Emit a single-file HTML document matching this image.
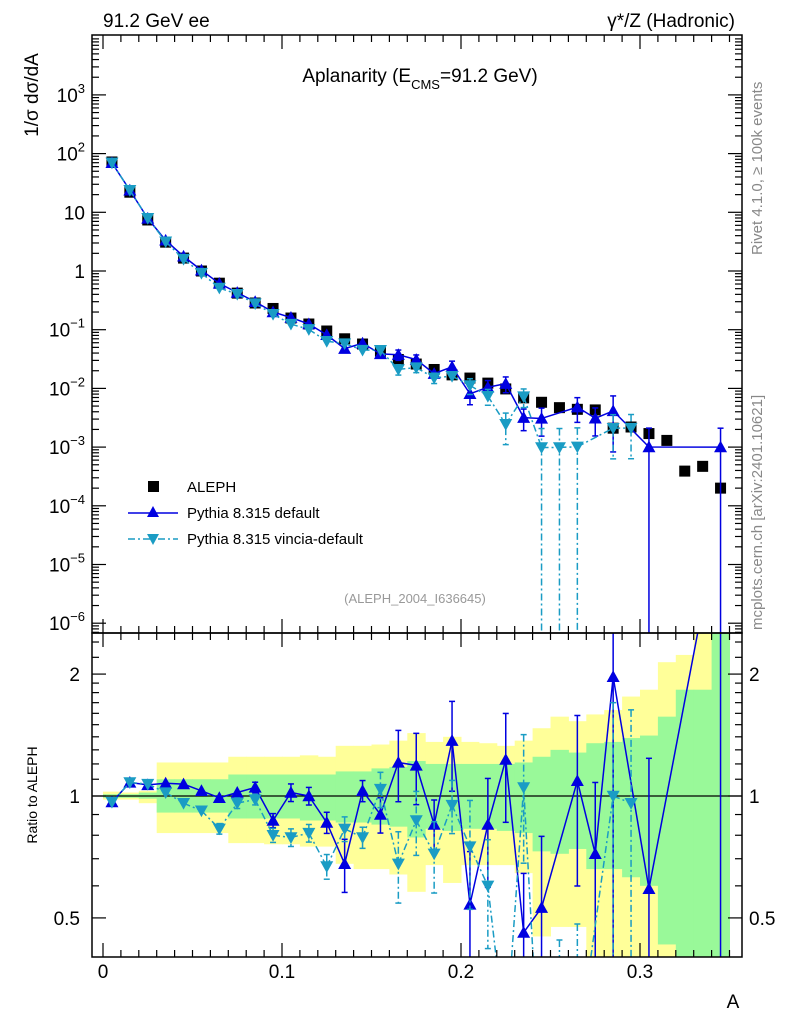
<!DOCTYPE html>
<html><head><meta charset="utf-8"><style>
html,body{margin:0;background:#fff;overflow:hidden;width:786px;height:1024px}
svg{display:block;font-family:"Liberation Sans",sans-serif}
</style></head><body>
<svg id="c" width="786" height="1024" viewBox="0 0 786 1024" xmlns="http://www.w3.org/2000/svg">
<defs>
<clipPath id="clipR"><rect x="92" y="633" width="650" height="324"/></clipPath>
<clipPath id="clipM"><rect x="92" y="35" width="650" height="598"/></clipPath>
</defs>
<text x="103" y="27" font-size="19">91.2 GeV ee</text>
<text x="735" y="27" font-size="19" text-anchor="end">γ*/Z (Hadronic)</text>
<text x="420" y="82" font-size="19" text-anchor="middle">Aplanarity (E<tspan font-size="13" dy="7">CMS</tspan><tspan dy="-7">=91.2 GeV)</tspan></text>
<text x="0" y="0" font-size="15" fill="#888" transform="translate(762,255) rotate(-90)">Rivet 4.1.0, ≥ 100k events</text>
<text x="0" y="0" font-size="15" fill="#888" transform="translate(762,630) rotate(-90)">mcplots.cern.ch [arXiv:2401.10621]</text>
<text x="0" y="0" font-size="19" text-anchor="middle" transform="translate(38,95) rotate(-90)">1/σ  dσ/dA</text>
<text x="0" y="0" font-size="14" text-anchor="middle" transform="translate(37,795) rotate(-90)">Ratio to ALEPH</text>
<text x="733" y="1008" font-size="19" text-anchor="middle">A</text>
<text x="415" y="603" font-size="13" fill="#999" text-anchor="middle">(ALEPH_2004_I636645)</text>
<g id="bands" clip-path="url(#clipR)"></g>
<g id="ratio" clip-path="url(#clipR)"></g>
<g id="main" clip-path="url(#clipM)"></g>
<g id="axes"></g>
<g id="legend">
<rect x="148" y="481" width="11" height="11" fill="#000"/>
<text x="187" y="492" font-size="15">ALEPH</text>
<line x1="128" y1="513" x2="178" y2="513" stroke="#0000e0" stroke-width="1.5"/>
<path d="M153,506 L159,517 L147,517 Z" fill="#0000e0"/>
<text x="187" y="518" font-size="15">Pythia 8.315 default</text>
<line x1="128" y1="539" x2="178" y2="539" stroke="#1a9cc4" stroke-width="1.5" stroke-dasharray="7,3,2,3"/>
<path d="M147,534 L159,534 L153,545 Z" fill="#1a9cc4"/>
<text x="187" y="544" font-size="15">Pythia 8.315 vincia-default</text>
</g>
</svg>
<script>
const binCenters=[0.005,0.015,0.025,0.035,0.045,0.055,0.065,0.075,0.085,0.095,0.105,0.115,0.125,0.135,0.145,0.155,0.165,0.175,0.185,0.195,0.205,0.215,0.225,0.235,0.245,0.255,0.265,0.275,0.285,0.295,0.305,0.315,0.325,0.335,0.345];
const alephValues=[72,22,7.4,3.1,1.66,1.0,0.62,0.42,0.285,0.23,0.158,0.125,0.095,0.07,0.057,0.043,0.031,0.026,0.021,0.017,0.015,0.0123,0.0098,0.0069,0.0058,0.0047,0.0044,0.0043,0.0021,0.0022,0.0017,0.0013,0.00039,0.00047,0.0002];
const pythiaRatio=[0.966,1.08,1.065,1.075,1.07,1.03,0.99,1.02,1.05,0.87,1.02,1.0,0.86,0.68,1.03,0.90,1.21,1.19,0.85,1.37,0.54,0.85,1.23,0.46,0.53,null,1.09,0.72,1.97,null,0.59,null,null,null,5.0];
const pythiaErr=[0.01,0.01,0.01,0.01,0.01,0.015,0.02,0.02,0.03,0.04,0.05,0.05,0.06,0.15,0.06,0.1,0.2,0.2,0.15,0.25,0.35,0.3,0.3,0.4,0.5,0,0.45,0.5,0.8,0,1.1,0,0,0,1.1];
const vinciaRatio=[0.966,1.08,1.07,1.02,0.96,0.92,0.83,0.96,0.98,0.80,0.79,0.81,0.67,0.83,0.79,1.04,0.68,0.87,0.72,0.95,0.75,0.60,0.25,1.05,0.17,0.21,0.23,null,1.0,0.96,null,null,null,null,null];
const vinciaErr=[0.01,0.01,0.01,0.02,0.02,0.02,0.03,0.03,0.03,0.04,0.05,0.05,0.07,0.07,0.06,0.1,0.2,0.18,0.2,0.15,0.3,0.3,0.55,0.35,1.1,1.1,1.1,0,0.7,0.7,0,0,0,0,0];
const yellowHi=[1.025,1.02,1.03,1.21,1.21,1.21,1.21,1.25,1.25,1.25,1.25,1.26,1.25,1.33,1.33,1.34,1.37,1.43,1.36,1.4,1.36,1.35,1.33,1.37,1.47,1.57,1.53,1.59,1.63,1.76,1.83,2.14,2.23,2.6,2.6];
const yellowLo=[0.98,0.98,0.96,0.81,0.81,0.81,0.81,0.765,0.765,0.76,0.76,0.75,0.75,0.68,0.66,0.66,0.64,0.58,0.675,0.61,0.675,0.675,0.675,0.645,0.45,0.475,0.475,0.3,0.3,0.3,0.3,0.4,0.3,0.3,0.3];
const greenHi=[1.01,1.01,1.02,1.10,1.10,1.10,1.10,1.13,1.13,1.13,1.13,1.13,1.13,1.15,1.15,1.17,1.18,1.22,1.2,1.2,1.2,1.2,1.2,1.21,1.25,1.3,1.28,1.35,1.36,1.39,1.41,1.57,1.83,1.83,2.6];
const greenLo=[0.99,0.99,0.985,0.91,0.91,0.91,0.91,0.88,0.88,0.88,0.88,0.87,0.87,0.86,0.86,0.85,0.84,0.79,0.83,0.82,0.83,0.83,0.82,0.81,0.73,0.72,0.74,0.66,0.66,0.63,0.6,0.43,0.3,0.3,0.3];
const xTicks=[0,0.1,0.2,0.3];
const xTickLabels=["0","0.1","0.2","0.3"];
const ratioTicks=[0.5,1,2];
const ratioTickLabels=["0.5","1","2"];

const NS="http://www.w3.org/2000/svg";
const X=v=>103+1790*v;
const YM=v=>271-58.7*Math.log10(v);
const YR=v=>796-405*Math.log10(v);
const BW=0.01;
function mk(p,t,a){const e=document.createElementNS(NS,t);for(const k in a)e.setAttribute(k,a[k]);p.appendChild(e);return e;}
const gB=document.getElementById('bands'),gR=document.getElementById('ratio'),gM=document.getElementById('main'),gA=document.getElementById('axes');
const clampR=y=>Math.max(633,Math.min(957,y));
const clampM=y=>Math.max(35,Math.min(633,y));

binCenters.forEach((c,i)=>{
  const t=clampR(YR(yellowHi[i])),b=clampR(YR(yellowLo[i]));
  let r=mk(gB,'rect',{x:X(c-BW/2),y:t,width:X(c+BW/2)-X(c-BW/2)+0.5,height:b-t,fill:'#ffff99'});
  
  
});
binCenters.forEach((c,i)=>{
  const t=clampR(YR(greenHi[i])),b=clampR(YR(greenLo[i]));
  let r=mk(gB,'rect',{x:X(c-BW/2),y:t,width:X(c+BW/2)-X(c-BW/2)+0.5,height:b-t,fill:'#99f999'});
  
  
});
mk(gR,'line',{x1:92,x2:742,y1:YR(1),y2:YR(1),stroke:'#000','stroke-width':1.2});

function tri(g,x,y,up,col,name){
  const s=6.5;
  const d=up?`M${x},${y-s} L${x+s},${y+s*0.8} L${x-s},${y+s*0.8} Z`:`M${x-s},${y-s*0.8} L${x+s},${y-s*0.8} L${x},${y+s} Z`;
  const p=mk(g,'path',{d:d,fill:col});
  
  
}
// clip segment to y range [t,b]
function clipSeg(x1,y1,x2,y2,t,b){
  let a0=0,a1=1;const dy=y2-y1;
  if(dy===0){if(y1<t||y1>b)return null;}
  else{
    let ta=(t-y1)/dy,tb=(b-y1)/dy;if(ta>tb){const q=ta;ta=tb;tb=q;}
    a0=Math.max(a0,ta);a1=Math.min(a1,tb);if(a0>a1)return null;
  }
  return [x1+(x2-x1)*a0,y1+dy*a0,x1+(x2-x1)*a1,y1+dy*a1];
}
function series(ratio,err,col,up,dash,nm){
  const ptsM=[],ptsR=[];
  ratio.forEach((r,i)=>{ if(r===null)return;
    const v=r*alephValues[i];ptsM.push([X(binCenters[i]),YM(v),v,err[i]]);ptsR.push([X(binCenters[i]),YR(r),r,err[i]]);});
  const da=dash?{'stroke-dasharray':'7,3,2,3'}:{};
  [[ptsM,gM,YM,clampM,35,633,'main'],[ptsR,gR,YR,clampR,633,957,'ratio']].forEach(([pts,g,Y,cl,t,b,pn])=>{
    let d='';
    for(let k=0;k<pts.length-1;k++){
      const s=clipSeg(pts[k][0],pts[k][1],pts[k+1][0],pts[k+1][1],t,b);
      if(s)d+=`M${s[0]},${s[1]} L${s[2]},${s[3]} `;
    }
    const ln=mk(g,'path',Object.assign({d:d,fill:'none',stroke:col,'stroke-width':1.5},da));
    
    
    pts.forEach(p=>{
      const e=p[3];
      if(e>0){
        const hi=cl(Y(p[2]*(1+e))), lo=e>=1?cl(2000):cl(Y(p[2]*(1-e)));
        if(Math.abs(lo-hi)>8){
          mk(g,'line',Object.assign({x1:p[0],x2:p[0],y1:hi,y2:lo,stroke:col,'stroke-width':1.5},da));
          if(hi>t)mk(g,'line',{x1:p[0]-3,x2:p[0]+3,y1:hi,y2:hi,stroke:col,'stroke-width':1.5});
          if(e<1&&lo<b)mk(g,'line',{x1:p[0]-3,x2:p[0]+3,y1:lo,y2:lo,stroke:col,'stroke-width':1.5});
        }
      }
      if(p[1]>t-8&&p[1]<b+8)tri(g,p[0],p[1],up,col,nm+'-point');
    });
  });
}
binCenters.forEach((c,i)=>{
  const r=mk(gM,'rect',{x:X(c)-5.5,y:YM(alephValues[i])-5.5,width:11,height:11,fill:'#000'});
  
  
});
series(pythiaRatio,pythiaErr,'#0000e0',true,false,'pythia-default');
series(vinciaRatio,vinciaErr,'#1a9cc4',false,true,'pythia-vincia');

[[35,633],[633,957]].forEach(([t,b],k)=>{
  const f=mk(gA,'rect',{x:92,y:t,width:650,height:b-t,fill:'none',stroke:'#000','stroke-width':1.5});
  
  
  for(let j=0;j<=35;j++){const v=j*0.01,x=X(v);const L=(j%10==0)?14:7;
    mk(gA,'line',{x1:x,x2:x,y1:b,y2:b-L,stroke:'#000','stroke-width':1.2});
    mk(gA,'line',{x1:x,x2:x,y1:t,y2:t+L,stroke:'#000','stroke-width':1.2});}
});
xTicks.forEach((v,i)=>{const t=mk(gA,'text',{x:X(v),y:978,'font-size':19,'text-anchor':'middle'});t.textContent=xTickLabels[i];
  
  });
for(let d=-7;d<=3;d++){for(let m=1;m<10;m++){const v=m*Math.pow(10,d),y=YM(v);if(y<35||y>633)continue;const L=m==1?14:7;
  mk(gA,'line',{x1:92,x2:92+L,y1:y,y2:y,stroke:'#000','stroke-width':1.2});
  mk(gA,'line',{x1:742,x2:742-L,y1:y,y2:y,stroke:'#000','stroke-width':1.2});}}
for(let d=-6;d<=3;d++){const y=YM(Math.pow(10,d))+7;const t=mk(gA,'text',{x:85,y:y,'font-size':19,'text-anchor':'end'});
  if(d==0)t.textContent='1';else if(d==1)t.textContent='10';else{t.textContent='10';const s=mk(t,'tspan',{dy:-9,'font-size':13});s.textContent=String(d).replace('-','−');}
  
  }
const rt=[0.4,0.5,0.6,0.7,0.8,0.9,1,1.1,1.2,1.3,1.4,1.5,1.6,1.7,1.8,1.9,2,2.2,2.4];
rt.forEach(v=>{const y=YR(v);if(y<633||y>957)return;const L=(v==0.5||v==1||v==2)?14:7;
  mk(gA,'line',{x1:92,x2:92+L,y1:y,y2:y,stroke:'#000','stroke-width':1.2});
  mk(gA,'line',{x1:742,x2:742-L,y1:y,y2:y,stroke:'#000','stroke-width':1.2});});
ratioTicks.forEach((v,i)=>{const y=YR(v)+7;
  const t=mk(gA,'text',{x:80,y:y,'font-size':19,'text-anchor':'end'});t.textContent=ratioTickLabels[i];
  
  
  const t2=mk(gA,'text',{x:749,y:y,'font-size':19});t2.textContent=ratioTickLabels[i];
  
  });
</script>
</body></html>
